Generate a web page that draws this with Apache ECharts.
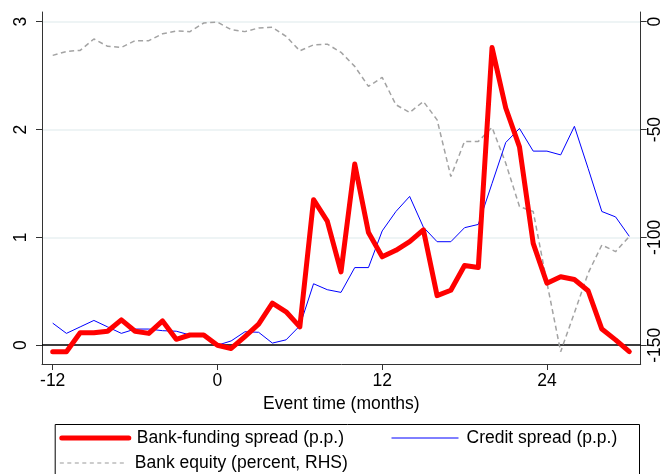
<!DOCTYPE html>
<html>
<head>
<meta charset="utf-8">
<script src="https://cdn.jsdelivr.net/npm/echarts@6/dist/echarts.min.js"></script>
<style>
html,body{margin:0;padding:0;background:#fff;}
#chart{width:662px;height:474px;}
</style>
</head>
<body>
<div id="chart"></div>
<script>
// Event time (months)
const months = [-12,-11,-10,-9,-8,-7,-6,-5,-4,-3,-2,-1,0,1,2,3,4,5,6,7,8,9,10,11,12,13,14,15,16,17,18,19,20,21,22,23,24,25,26,27,28,29,30];
// Bank-funding spread (p.p.)
const bankFunding = [-0.06,-0.06,0.115,0.115,0.13,0.235,0.13,0.11,0.225,0.055,0.095,0.095,0.0,-0.03,0.08,0.195,0.39,0.31,0.17,1.35,1.15,0.68,1.68,1.045,0.82,0.88,0.96,1.07,0.46,0.51,0.74,0.72,2.76,2.20,1.84,0.945,0.575,0.635,0.61,0.505,0.15,0.05,-0.06];
// Credit spread (p.p.)
const creditSpread = [0.205,0.11,0.17,0.23,0.17,0.11,0.15,0.15,0.135,0.13,0.095,0.10,0.0,0.04,0.125,0.12,0.02,0.05,0.18,0.57,0.515,0.49,0.72,0.72,1.06,1.24,1.38,1.095,0.96,0.96,1.09,1.12,1.50,1.88,2.01,1.80,1.80,1.765,2.03,1.64,1.24,1.19,1.01];
// Bank equity (percent, RHS)
const bankEquity = [-15.6,-13.8,-13.3,-8.0,-11.4,-11.9,-8.8,-8.8,-5.6,-4.3,-4.6,-0.6,-0.2,-3.7,-4.6,-2.9,-2.6,-6.8,-13.5,-10.7,-10.4,-14.2,-20.7,-30,-25.8,-38.5,-42.1,-37,-45.5,-71.8,-55.5,-55.5,-49,-65.6,-85.7,-88,-121,-153,-135,-116.6,-103.5,-106.6,-99.6];
// Tick labels
const xTicks = [-12, 0, 12, 24];
const yLeftTicks = [0, 1, 2, 3];
const yRightTicks = [-150, -100, -50, 0];
const names = ['Bank-funding spread (p.p.)', 'Credit spread (p.p.)', 'Bank equity (percent, RHS)'];

const pair = arr => months.map((m, i) => [m, arr[i]]);
const FONT = 'Arial, "Liberation Sans", sans-serif';
const FS = 17.5;

const chart = echarts.init(document.getElementById('chart'), null, {renderer: 'canvas'});
const legendText = {fontSize: FS, fontFamily: FONT, color: '#000', lineHeight: 20, padding: [0, 0, 0, 3]};
const hideSym = {opacity: 0, borderWidth: 0};
chart.setOption({
  animation: false,
  backgroundColor: '#fff',
  grid: {left: 42, right: 21.3, top: 12, bottom: 110, containLabel: false, outerBoundsMode: 'none'},
  legend: [
    {data: [{name: names[0], itemStyle: hideSym, lineStyle: {width: 5, color: '#ff0000', type: 'solid'}}], left: 59.3, top: 428, padding: 0, itemWidth: 67, itemHeight: 14, textStyle: legendText, selectedMode: false},
    {data: [{name: names[1], itemStyle: hideSym, lineStyle: {width: 1, color: '#0000ff', type: 'solid'}}], left: 391, top: 428, padding: 0, itemWidth: 67, itemHeight: 14, textStyle: legendText, selectedMode: false},
    {data: [{name: names[2], itemStyle: hideSym, lineStyle: {width: 1, color: '#999999', type: [4, 3.5]}}], left: 59.3, top: 453, padding: 0, itemWidth: 67, itemHeight: 14, textStyle: legendText, selectedMode: false}
  ],
  graphic: [{
    type: 'rect', left: 52.7, top: 422,
    shape: {width: 584.3, height: 70},
    style: {fill: 'none', stroke: '#000', lineWidth: 1},
    silent: true
  }],
  xAxis: {
    type: 'value', min: -12.78, max: 30.83,
    name: 'Event time (months)', nameLocation: 'middle', nameGap: 27,
    nameTextStyle: {fontSize: FS, fontFamily: FONT, color: '#000'},
    axisLine: {show: true, onZero: false, lineStyle: {color: '#333', width: 1}},
    axisTick: {show: true, length: 6, customValues: xTicks, lineStyle: {color: '#333'}},
    axisLabel: {customValues: xTicks, fontSize: FS, fontFamily: FONT, color: '#000', margin: 8},
    splitLine: {show: false}
  },
  yAxis: [{
    type: 'value', position: 'left', min: -0.174, max: 3.09,
    axisLine: {show: true, onZero: false, lineStyle: {color: '#333', width: 1}},
    axisTick: {show: true, length: 6, customValues: yLeftTicks, lineStyle: {color: '#333'}},
    axisLabel: {customValues: yLeftTicks, rotate: 90, fontSize: FS, fontFamily: FONT, color: '#000', margin: 12},
    splitLine: {show: true, lineStyle: {color: '#e9f0f2', width: 1.5}}
  }, {
    type: 'value', position: 'right', min: -158.7, max: 4.5,
    axisLine: {show: true, onZero: false, lineStyle: {color: '#333', width: 1}},
    axisTick: {show: true, length: 6, customValues: yRightTicks, lineStyle: {color: '#333'}},
    axisLabel: {customValues: yRightTicks, rotate: 90, fontSize: FS, fontFamily: FONT, color: '#000', margin: 5},
    splitLine: {show: false}
  }],
  series: [{
    name: names[2], type: 'line', yAxisIndex: 1, data: pair(bankEquity),
    symbol: 'none', lineStyle: {color: '#a3a3a3', width: 1.5, type: [5, 3.5]}, z: 2
  }, {
    name: names[1], type: 'line', yAxisIndex: 0, data: pair(creditSpread),
    symbol: 'none', lineStyle: {color: '#0000ff', width: 1}, z: 3
  }, {
    name: names[0], type: 'line', yAxisIndex: 0, data: pair(bankFunding),
    symbol: 'none', lineStyle: {color: '#ff0000', width: 5, join: 'round', cap: 'round'}, z: 4,
    markLine: {
      silent: true, symbol: 'none', label: {show: false},
      lineStyle: {color: '#000', width: 1.5, type: 'solid'},
      data: [{yAxis: 0}], z: 1
    }
  }]
});
</script>
</body>
</html>
